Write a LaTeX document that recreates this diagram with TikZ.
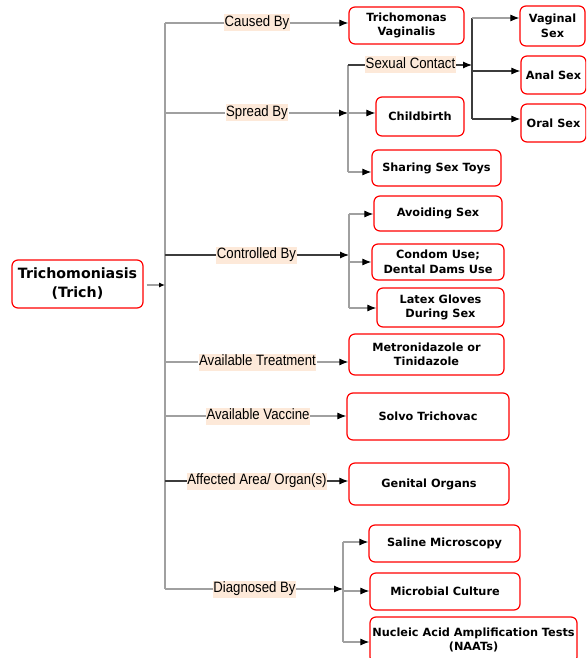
\documentclass[tikz,border=0pt]{standalone}
\usepackage{fontspec}
\usetikzlibrary{arrows.meta}
\newfontfamily\boxfont{DejaVu Sans}
\newfontfamily\labfont[FakeStretch=0.88]{Liberation Sans}
\definecolor{linegray}{RGB}{160,160,160}
\definecolor{linedark}{RGB}{60,60,60}
\definecolor{labbg}{RGB}{253,233,217}
\definecolor{boxred}{RGB}{255,0,0}
\tikzset{
  conn/.style={draw=linegray, line width=1.1pt},
  dconn/.style={draw=linedark, line width=1.1pt},
  arr/.style={conn, -{Latex[length=9pt,width=7pt,color=black]}},
  darr/.style={dconn, -{Latex[length=9pt,width=7pt,color=black]}},
  lab/.style={fill=labbg, font=\labfont\fontsize{15}{17}\selectfont, inner xsep=0.5pt, inner ysep=1pt, text height=11pt, text depth=4pt},
  box/.style={draw=boxred, line width=1.2pt, rounded corners=6pt, fill=white, align=center, inner sep=0pt, font=\boxfont\bfseries\fontsize{11.3}{14.5}\selectfont},
  rootbox/.style={box, font=\boxfont\bfseries\fontsize{14.2}{19}\selectfont}
}
\begin{document}
\begin{tikzpicture}[x=1pt,y=-1pt]
\useasboundingbox (0,0) rectangle (586,658);
\clip (0,0) rectangle (586,658);

% root
\node[rootbox, minimum width=131pt, minimum height=48pt] (root) at (77.5,284) {Trichomoniasis\\(Trich)};

% trunk coordinates
\coordinate (t0) at (165,285);
\coordinate (tA) at (165,23);
\coordinate (tB) at (165,113);
\coordinate (tC) at (165,255);
\coordinate (tD) at (165,362);
\coordinate (tE) at (165,416);
\coordinate (tF) at (165,481);
\coordinate (tG) at (165,589);

\draw[conn] (tA) -- (tG);
\draw[conn, -{Latex[length=6pt,width=5pt,color=black]}] ([xshift=3pt]root.east |- t0) -- (t0);

% boxes
\node[box, minimum width=115pt, minimum height=37pt] (bTV) at (406.5,25.5) {Trichomonas\\Vaginalis};
\node[box, minimum width=65pt, minimum height=40pt] (bVag) at (552.5,26) {Vaginal\\Sex};
\node[box, minimum width=65pt, minimum height=38pt] (bAnal) at (553.5,75) {Anal Sex};
\node[box, minimum width=65pt, minimum height=38pt] (bOral) at (553.5,123) {Oral Sex};
\node[box, minimum width=88pt, minimum height=39pt] (bChild) at (420,116.5) {Childbirth};
\node[box, minimum width=129pt, minimum height=36pt] (bToys) at (436.5,168) {Sharing Sex Toys};
\node[box, minimum width=128pt, minimum height=35pt] (bAvoid) at (438,213.5) {Avoiding Sex};
\node[box, minimum width=132pt, minimum height=36pt] (bCondom) at (438,262) {Condom Use;\\Dental Dams Use};
\node[box, minimum width=127pt, minimum height=39pt] (bGlove) at (440.5,307.5) {Latex Gloves\\During Sex};
\node[box, minimum width=155pt, minimum height=41pt] (bMet) at (426.5,354.5) {Metronidazole or\\Tinidazole};
\node[box, minimum width=162pt, minimum height=47pt] (bSolvo) at (428,416.5) {Solvo Trichovac};
\node[box, minimum width=160pt, minimum height=42pt] (bGen) at (429,484) {Genital Organs};
\node[box, minimum width=151pt, minimum height=37pt] (bSal) at (444.5,543.5) {Saline Microscopy};
\node[box, minimum width=150pt, minimum height=37pt] (bMic) at (445,591.5) {Microbial Culture};
\node[box, minimum width=207pt, minimum height=46pt] (bNAAT) at (473.5,640) {Nucleic Acid Amplification Tests\\(NAATs)};

% labels
\node[lab] (lCaused) at (257,23) {Caused By};
\node[lab] (lSpread) at (257,113) {Spread By};
\node[lab] (lSexual) at (410.5,65) {Sexual Contact};
\node[lab] (lCtrl) at (256.5,255) {Controlled By};
\node[lab] (lTreat) at (257.5,362) {Available Treatment};
\node[lab] (lVacc) at (258,416) {Available Vaccine};
\node[lab] (lArea) at (257,481) {Affected Area/ Organ(s)};
\node[lab] (lDiag) at (254.5,589) {Diagnosed By};

% Caused By
\draw[conn] (tA) -- (lCaused.west);
\draw[arr] (lCaused.east) -- (lCaused.east -| bTV.west);

% Spread By
\coordinate (jS) at (348,113);
\coordinate (jS1) at (348,65);
\coordinate (jS3) at (348,172);
\draw[conn] (tB) -- (lSpread.west);
\draw[arr] (lSpread.east) -- (jS);
\draw[conn] (jS1) -- (jS3);
\draw[dconn] (jS1) -- (lSexual.west);
\draw[arr] (jS) -- (jS -| bChild.west);
\draw[arr] (jS3) -- (jS3 -| bToys.west);

% Sexual Contact
\coordinate (jX) at (472,65);
\coordinate (jX1) at (472,18);
\coordinate (jX2) at (472,71);
\coordinate (jX3) at (472,119);
\draw[darr] (lSexual.east) -- (jX);
\draw[dconn] (jX1) -- (jX3);
\draw[arr] (jX1) -- (jX1 -| bVag.west);
\draw[darr] (jX2) -- (jX2 -| bAnal.west);
\draw[darr] (jX3) -- (jX3 -| bOral.west);

% Controlled By
\coordinate (jC) at (349,255);
\coordinate (jC1) at (349,214);
\coordinate (jC2) at (349,262);
\coordinate (jC3) at (349,308);
\draw[dconn] (tC) -- (lCtrl.west);
\draw[darr] (lCtrl.east) -- (jC);
\draw[conn] (jC1) -- (jC3);
\draw[arr] (jC1) -- (jC1 -| bAvoid.west);
\draw[arr] (jC2) -- (jC2 -| bCondom.west);
\draw[arr] (jC3) -- (jC3 -| bGlove.west);

% Treatment
\draw[conn] (tD) -- (lTreat.west);
\draw[arr] (lTreat.east) -- (lTreat.east -| bMet.west);

% Vaccine
\draw[conn] (tE) -- (lVacc.west);
\draw[arr] (lVacc.east) -- (lVacc.east -| bSolvo.west);

% Affected area
\draw[dconn] (tF) -- (lArea.west);
\draw[darr] (lArea.east) -- (lArea.east -| bGen.west);

% Diagnosed By
\coordinate (jD) at (343,589);
\coordinate (jD1) at (343,542);
\coordinate (jD2) at (343,591);
\coordinate (jD3) at (343,642);
\draw[conn] (tG) -- (lDiag.west);
\draw[arr] (lDiag.east) -- (jD);
\draw[conn] (jD1) -- (jD3);
\draw[arr] (jD1) -- (jD1 -| bSal.west);
\draw[arr] (jD2) -- (jD2 -| bMic.west);
\draw[arr] (jD3) -- (jD3 -| bNAAT.west);
\end{tikzpicture}
\end{document}
